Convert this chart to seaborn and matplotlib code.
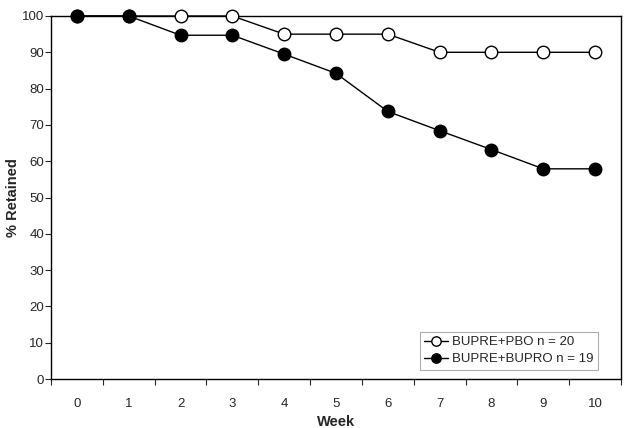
import matplotlib
matplotlib.use("Agg")
import matplotlib.pyplot as plt
import seaborn as sns
import pandas as pd
from matplotlib.ticker import MultipleLocator, FixedLocator

weeks = [0, 1, 2, 3, 4, 5, 6, 7, 8, 9, 10]
pbo = [100, 100, 100, 100, 95, 95, 95, 90, 90, 90, 90]
bupro = [100, 100, 94.7, 94.7, 89.5, 84.2, 73.7, 68.4, 63.2, 57.9, 57.9]
labels = ["BUPRE+PBO n = 20", "BUPRE+BUPRO n = 19"]

sns.set_style("white")
plt.rcParams['font.family'] = ['Liberation Sans', 'DejaVu Sans']

df = pd.DataFrame({
    "Week": weeks * 2,
    "val": pbo + bupro,
    "grp": [labels[0]] * len(weeks) + [labels[1]] * len(weeks),
})

fig = plt.figure(figsize=(6.29, 4.28), dpi=100)
ax = fig.add_axes([51/629, 1 - 379/428, (621 - 51)/629, (379 - 16)/428])

for lab, face in zip(labels, ["white", "black"]):
    sub = df[df["grp"] == lab]
    sns.lineplot(data=sub, x="Week", y="val", ax=ax, color="black", lw=1,
                 marker="o", markersize=9, markerfacecolor=face,
                 markeredgecolor="black", markeredgewidth=1, label=lab,
                 clip_on=False, zorder=3)

ax.set_xlim(-0.5, 10.5)
ax.set_ylim(0, 100)
ax.yaxis.set_major_locator(MultipleLocator(10))
ax.set_xticks(weeks)
ax.xaxis.set_minor_locator(FixedLocator([i + 0.5 for i in range(-1, 11)]))
ax.tick_params(axis="x", which="major", length=0, labelsize=9.5, pad=14)
ax.tick_params(axis="x", which="minor", length=4, width=0.8, direction="out", bottom=True)
ax.tick_params(axis="y", which="major", length=4, width=0.8, direction="out", left=True, labelsize=9.5, pad=1)
for s in ax.spines.values():
    s.set_color("black")
    s.set_linewidth(1)
ax.set_xlabel("Week", fontsize=10.5, fontweight="bold", labelpad=3)
ax.set_ylabel("% Retained", fontsize=10.5, fontweight="bold", labelpad=1)

leg = ax.legend(loc="lower right", bbox_to_anchor=(0.96, 0.025), fontsize=9.5,
                frameon=True, fancybox=False, edgecolor="#999999",
                handlelength=1.8, handletextpad=0.3, borderpad=0.35,
                labelspacing=0.35, borderaxespad=0, markerscale=0.75)
leg.get_frame().set_linewidth(0.8)

fig.savefig("out.png", dpi=100)
